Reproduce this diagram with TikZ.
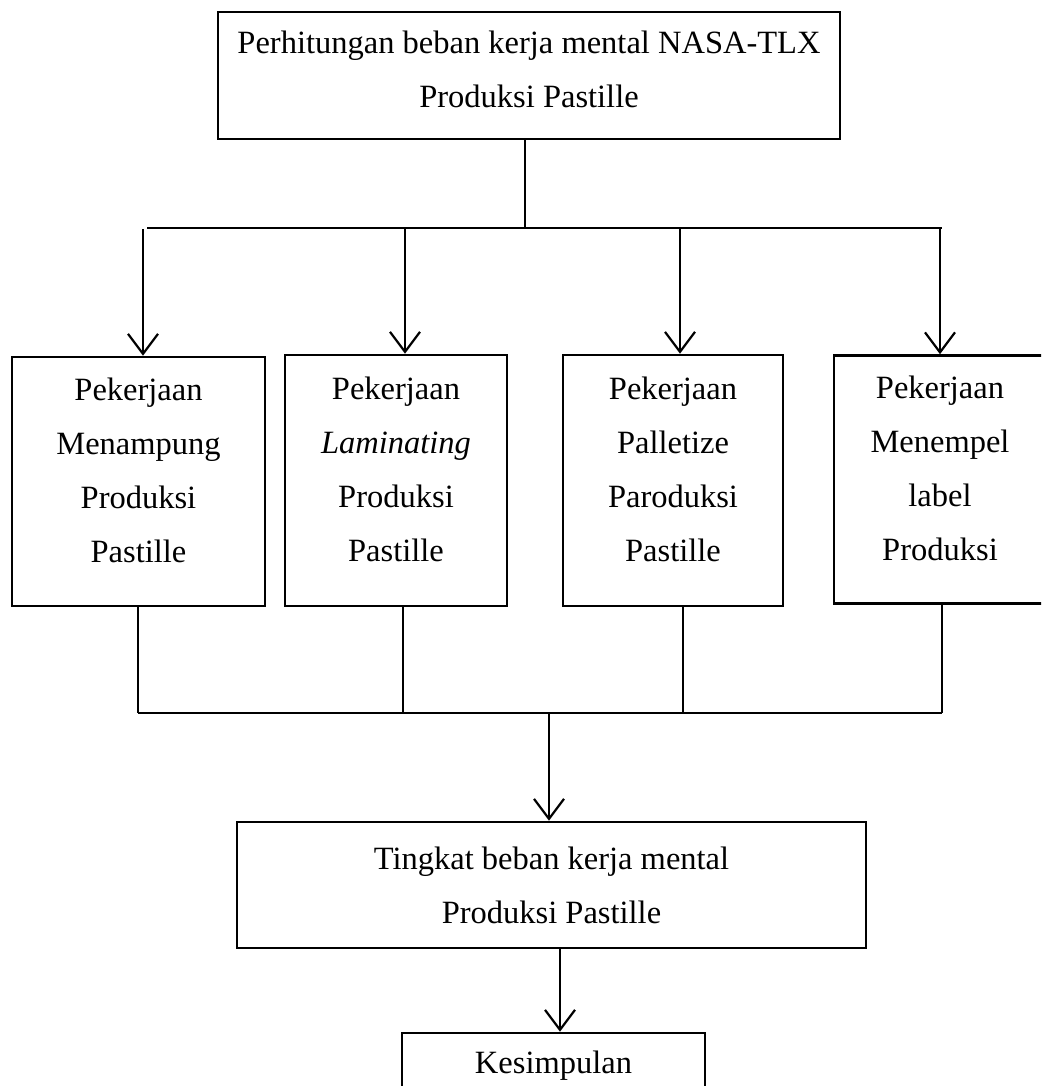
\documentclass[tikz,border=0pt]{standalone}
\usepackage{fontspec}
\setmainfont{Liberation Serif}
\usetikzlibrary{arrows.meta}
\begin{document}
\begin{tikzpicture}[x=1pt,y=-1pt,
  box/.style={draw, line width=2.6pt, rectangle, inner sep=0pt, align=center,
              font=\fontsize{32.5}{54}\selectfont},
  lift/.style={text depth=#1},
  conn/.style={line width=2.2pt},
  arr/.style={conn, -{Straight Barb[length=20pt,width=30pt,line width=2.2pt]}}]
\useasboundingbox (0,0) rectangle (1041,1086);
\clip (0,0) rectangle (1041,1086);

\node[box, lift=13pt, minimum width=622pt, minimum height=127pt] (top) at (529,75.5)
  {Perhitungan beban kerja mental NASA-TLX\\Produksi Pastille};
\node[box, lift=22pt, minimum width=253pt, minimum height=249pt] (b1) at (138.5,481.5)
  {Pekerjaan\\Menampung\\Produksi\\Pastille};
\node[box, lift=22pt, minimum width=222pt, minimum height=251pt] (b2) at (396,480.5)
  {Pekerjaan\\\textit{Laminating}\\Produksi\\Pastille};
\node[box, lift=22pt, minimum width=220pt, minimum height=251pt] (b3) at (673,480.5)
  {Pekerjaan\\Palletize\\Paroduksi\\Pastille};
\node[box, lift=22pt, minimum width=212pt, minimum height=248pt] (b4) at (940,479.5)
  {Pekerjaan\\Menempel\\label\\Produksi};
\node[box, minimum width=629pt, minimum height=126pt] (b5) at (551.5,885)
  {Tingkat beban kerja mental\\Produksi Pastille};
\node[box, minimum width=303pt, minimum height=66pt] (b6) at (553.5,1066)
  {Kesimpulan};

% top distribution
\coordinate (tj) at (525,228);
\coordinate (hl) at (147,228);
\coordinate (hr) at (942,228);
\draw[conn] (top.south -| tj) -- (tj);
\draw[conn] (hl) -- (hr);
\coordinate (a1) at (143,229);
\coordinate (a2) at (405,228);
\coordinate (a3) at (680,228);
\coordinate (a4) at (940,228);
\draw[arr] (a1) -- (b1.north -| a1);
\draw[arr] (a2) -- (b2.north -| a2);
\draw[arr] (a3) -- (b3.north -| a3);
\draw[arr] (a4) -- (b4.north -| a4);

% bottom collection
\coordinate (c1) at (138,713);
\coordinate (c2) at (403,713);
\coordinate (c3) at (683,713);
\coordinate (c4) at (942,713);
\coordinate (c5) at (549,713);
\draw[conn] (b1.south -| c1) -- (c1);
\draw[conn] (b2.south -| c2) -- (c2);
\draw[conn] (b3.south -| c3) -- (c3);
\draw[conn] (b4.south -| c4) -- (c4);
\draw[conn] (c1) -- (c4);
\draw[arr] (c5) -- (b5.north -| c5);

\coordinate (d) at (560,990);
\draw[arr] (b5.south -| d) -- (b6.north -| d);
\end{tikzpicture}
\end{document}
